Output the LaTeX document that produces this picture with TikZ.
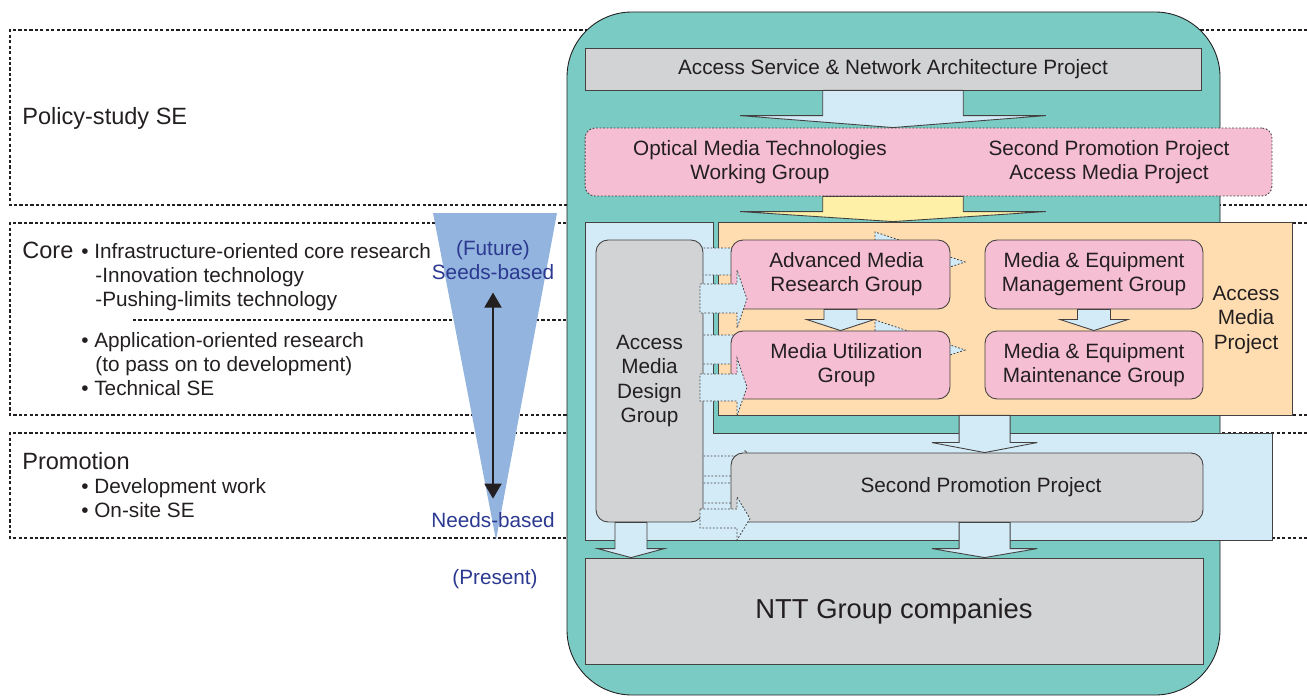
\documentclass[tikz,border=0pt]{standalone}
\usepackage{fontspec}
\setmainfont{Liberation Sans}
\usetikzlibrary{arrows.meta,calc}

\definecolor{tealbg}{HTML}{7ACBC3}
\definecolor{lightblue}{HTML}{D3EAF7}
\definecolor{boxgray}{HTML}{D1D3D4}
\definecolor{grouppink}{HTML}{F6BED2}
\definecolor{projorange}{HTML}{FFDDB0}
\definecolor{arrowyellow}{HTML}{FFF0A8}
\definecolor{wedgeblue}{HTML}{93B4DF}
\definecolor{labelblue}{HTML}{2B3990}
\definecolor{ink}{HTML}{231F20}

\tikzset{
  band/.style={ink, line width=0.6pt, dash pattern=on 1.8pt off 1.3pt},
  graybox/.style={draw=ink!85, fill=boxgray, line width=0.5pt, rounded corners=0.24cm, inner sep=0pt},
  pinkbox/.style={draw=ink!85, fill=grouppink, line width=0.5pt, rounded corners=0.24cm, inner sep=0pt},
  fatarrow/.style={draw=ink!85, fill=lightblue, line width=0.5pt},
  dotarrow/.style={draw=ink!85, fill=lightblue, line width=0.45pt, dash pattern=on 1pt off 1pt},
  txt/.style={text=ink, font=\fontsize{11.8}{13.7}\selectfont, align=center, inner sep=0pt},
  headtxt/.style={text=ink, font=\fontsize{13.4}{16}\selectfont, inner sep=0pt, anchor=base west},
  itemtxt/.style={text=ink, font=\fontsize{11.8}{13.7}\selectfont, inner sep=0pt, anchor=base west},
  bluetxt/.style={text=labelblue, font=\fontsize{11.8}{13.7}\selectfont, inner sep=0pt, anchor=base}
}

% fat arrow pointing down: [style]{from}{tip}{half shaft}{half head}{head length}
\newcommand{\fatdown}[6][fatarrow]{%
  \path[#1] let \p1=(#2), \p2=(#3) in
    (\x2-#4,\y1) -- (\x2+#4,\y1) -- (\x2+#4,\y2+#6) -- (\x2+#5,\y2+#6) -- (\x2,\y2)
    -- (\x2-#5,\y2+#6) -- (\x2-#4,\y2+#6) -- cycle;}

\begin{document}
\begin{tikzpicture}[x=0.02cm,y=-0.02cm]
	\useasboundingbox (0,0) rectangle (1307,696);

	\draw[band] (1307,30) -- (10,30) -- (10,205) -- (1307,205); % Policy-study band
	\draw[band] (1307,223) -- (10,223) -- (10,415) -- (1307,415); % Core band
	\draw[band] (1307,433) -- (10,433) -- (10,538) -- (1307,538); % Promotion band
	\draw[band] (133,320) -- (567,320); % split inside the core band

	\fill[wedgeblue] (433,213) -- (557,213) -- (496,540) -- cycle; % seeds/needs wedge
	\node[bluetxt] (future) at (493,255) {(Future)};
	\node[bluetxt] (seeds) at (493,279) {Seeds-based};
	\node[bluetxt] (needs) at (493,527) {Needs-based};
	\node[bluetxt] (present) at (495,584) {(Present)};
	\draw[<->,>={Triangle[length=0.3cm,width=0.34cm]},ink,line width=1.1pt,
		shorten <=0.26cm,shorten >=0.26cm] (seeds.south) -- (needs.north);

	\node[headtxt] (policy) at (22,124) {Policy-study SE};
	\node[headtxt] (core) at (22,258) {Core};
	\node[itemtxt] (infra) at (81,258) {• Infrastructure-oriented core research};
	\node[itemtxt] (innov) at (95,282) {-Innovation technology};
	\node[itemtxt] (limits) at (95,306) {-Pushing-limits technology};
	\node[itemtxt] (appl) at (81,347) {• Application-oriented research};
	\node[itemtxt] (pass) at (95,371) {(to pass on to development)};
	\node[itemtxt] (techse) at (81,395) {• Technical SE};
	\node[headtxt] (promo) at (22,469) {Promotion};
	\node[itemtxt] (devwork) at (81,493) {• Development work};
	\node[itemtxt] (onsite) at (81,517) {• On-site SE};

	\draw[fill=tealbg, draw=ink, line width=0.5pt, rounded corners=1.3cm] (567,12) rectangle (1220,695); % outer frame
	\draw[fill=lightblue, draw=ink!85, line width=0.5pt]
		(585,222) -- (713,222) -- (713,433) -- (1272,433) -- (1272,540) -- (585,540) -- cycle; % light blue area
	\node[draw=ink!85, fill=projorange, line width=0.5pt, minimum width=11.48cm, minimum height=3.86cm] (amp) at (1005,318.5) {};
	\node[txt] (amptxt) at (1246,320) {Access\\Media\\Project};

	\node[graybox, rounded corners=0pt, minimum width=12.32cm, minimum height=0.84cm, txt] (asn) at (893,69) {Access Service \& Network Architecture Project};
	\node[draw=ink!85, fill=grouppink, line width=0.5pt, dash pattern=on 1pt off 1pt, rounded corners=0.2cm,
		minimum width=13.74cm, minimum height=1.36cm] (ptf) at (928.5,162) {};
	\node[txt] (omtwg) at (760,162) {Optical Media Technologies\\Working Group};
	\node[txt] (spam) at (1109,162) {Second Promotion Project\\Access Media Project};

	\fatdown{asn.south}{asn.south |- ptf.north}{40pt}{87pt}{6.8pt} % to the working group
	\fatdown[fatarrow,fill=arrowyellow]{asn.south |- ptf.south}{asn.south |- amp.north}{40pt}{87pt}{5.7pt} % into the project

	% dotted arrows hidden behind the groups
	\draw[dotarrow] (700,248) -- (875,248) -- (875,232) -- (965,262) -- (875,292) -- (875,275) -- (700,275) -- cycle;
	\draw[dotarrow] (700,335) -- (875,335) -- (875,320) -- (965,350) -- (875,380) -- (875,364) -- (700,364) -- cycle;
	\draw[dotarrow] (700,456) -- (745,456) -- (745,450) -- (755,466) -- (745,482) -- (745,476) -- (700,476) -- cycle;
	\draw[dotarrow] (700,483) -- (745,483) -- (745,477) -- (755,493) -- (745,509) -- (745,503) -- (700,503) -- cycle;

	\node[graybox, txt, minimum width=2.14cm, minimum height=5.64cm] (amdg) at (649.5,381) {Access\\Media\\Design\\Group};
	\node[pinkbox, txt, minimum width=4.38cm, minimum height=1.38cm] (amrg) at (840.5,274.5) {\hspace*{0.24cm}Advanced Media\\\hspace*{0.24cm}Research Group};
	\node[pinkbox, txt, minimum width=4.38cm, minimum height=1.36cm] (mug) at (840.5,365) {\hspace*{0.24cm}Media Utilization\\\hspace*{0.24cm}Group};
	\node[pinkbox, txt, minimum width=4.36cm, minimum height=1.38cm] (memg) at (1094,274.5) {Media \& Equipment\\Management Group};
	\node[pinkbox, txt, minimum width=4.36cm, minimum height=1.36cm] (memt) at (1094,365) {Media \& Equipment\\Maintenance Group};
	\node[graybox, txt, minimum width=9.44cm, minimum height=1.38cm] (spp) at (967,487.5) {\hspace*{0.56cm}Second Promotion Project};

	% dotted arrows lying on the groups
	\draw[dotarrow] (700,284) -- (737,284) -- (737,270) -- (747,299) -- (737,328) -- (737,313) -- (700,313) -- cycle;
	\draw[dotarrow] (700,374) -- (737,374) -- (737,358) -- (747,387) -- (737,416) -- (737,401) -- (700,401) -- cycle;
	\draw[dotarrow] (700,509) -- (737,509) -- (737,497) -- (750,518.5) -- (737,540) -- (737,528) -- (700,528) -- cycle;

	\node[graybox, rounded corners=0pt, txt, font=\fontsize{15.6}{18}\selectfont, minimum width=12.36cm, minimum height=2.12cm] (ntt) at (894,611) {NTT Group companies};

	\fatdown{amrg.south}{mug.north}{9.4pt}{19.3pt}{6.3pt}
	\fatdown{memg.south}{memt.north}{9.4pt}{19.3pt}{6.3pt}
	\fatdown{amp.south -| memg.west}{spp.north -| memg.west}{14.5pt}{30pt}{5.7pt}
	\fatdown{spp.south -| memg.west}{ntt.north -| memg.west}{14.5pt}{30pt}{5.1pt}
	\fatdown{$(amdg.south)+(-18.5,0)$}{$(amdg.south |- ntt.north)+(-18.5,0)$}{9.1pt}{19pt}{5.1pt}
\end{tikzpicture}
\end{document}
